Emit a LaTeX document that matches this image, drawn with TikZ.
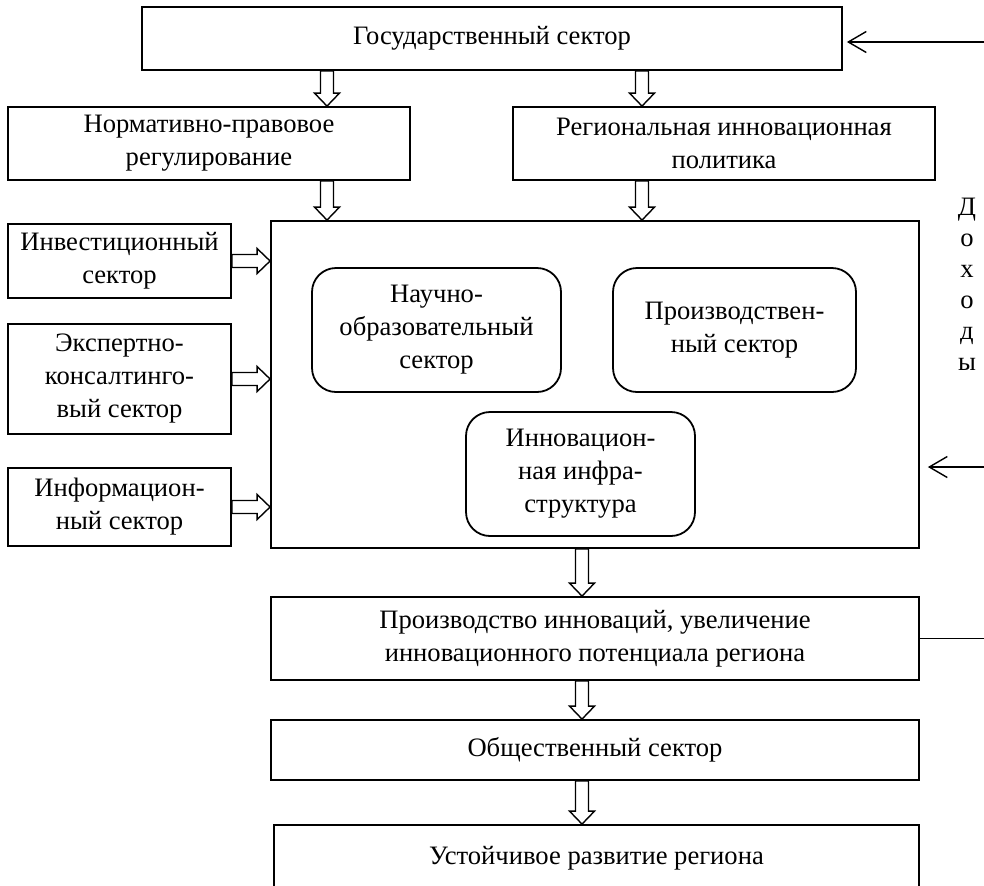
\documentclass[tikz,border=0pt]{standalone}
\usepackage{fontspec}
\setmainfont{Liberation Serif}
\usetikzlibrary{arrows.meta,calc}

\tikzset{
  box/.style={draw, line width=0.9pt, align=center, inner sep=2pt},
  inbox/.style={box, rounded corners=12pt},
  fatdown/.style={draw, line width=0.7pt, to path={
    let \p1=(\tikztostart), \p2=(\tikztotarget) in
    (\x1-3.25pt,\y1) -- (\x1-3.25pt,\y2+6.5pt) -- (\x1-6.25pt,\y2+6.5pt) -- (\x1,\y2)
    -- (\x1+6.25pt,\y2+6.5pt) -- (\x1+3.25pt,\y2+6.5pt) -- (\x1+3.25pt,\y1) -- cycle}},
  fatright/.style={draw, line width=0.7pt, to path={
    let \p1=(\tikztostart), \p2=(\tikztotarget) in
    (\x1,\y1-3.25pt) -- (\x2-6.5pt,\y1-3.25pt) -- (\x2-6.5pt,\y1-6.25pt) -- (\x2,\y1)
    -- (\x2-6.5pt,\y1+6.25pt) -- (\x2-6.5pt,\y1+3.25pt) -- (\x1,\y1+3.25pt) -- cycle}},
  back/.style={draw, line width=0.7pt, -{Straight Barb[length=9pt,width=10.5pt]}}
}

\begin{document}
\begin{tikzpicture}[x=0.5pt, y=-0.5pt, font=\fontsize{13.3pt}{16.5pt}\selectfont]
\useasboundingbox (0,0) rectangle (984,885);
\clip (0,0) rectangle (984,885);

% upper level
\node[box, minimum width=350pt, minimum height=31.5pt] (gos) at (492,38.5) {Государственный сектор};
\node[box, minimum width=201pt, minimum height=36.5pt] (norm) at (209,143.5) {Нормативно-правовое\\регулирование};
\node[box, minimum width=211pt, minimum height=36.5pt] (reg) at (724,143.5) {Региональная инновационная\\политика};

% the regional system
\node[box, minimum width=324pt, minimum height=163.5pt] (main) at (595,384.5) {};
\node[inbox, minimum width=124.5pt, minimum height=62pt] (sci) at (436.5,330) {Научно-\\образовательный\\сектор};
\node[inbox, minimum width=121.5pt, minimum height=62pt] (ind) at (734.5,330) {Производствен-\\ный сектор};
\node[inbox, minimum width=114.5pt, minimum height=62pt] (infra) at (580.5,474) {Инновацион-\\ная инфра-\\структура};

% sectors on the left
\node[box, minimum width=111.5pt, minimum height=37pt] (inv) at (119.5,261) {Инвестиционный\\сектор};
\node[box, minimum width=111.5pt, minimum height=55pt] (exp) at (119.5,379) {Экспертно-\\консалтинго-\\вый сектор};
\node[box, minimum width=111.5pt, minimum height=39pt] (inf) at (119.5,507) {Информацион-\\ный сектор};

% results
\node[box, minimum width=324pt, minimum height=41.5pt] (prod) at (595,638.5) {Производство инноваций, увеличение\\инновационного потенциала региона};
\node[box, minimum width=324pt, minimum height=30pt] (soc) at (595,750) {Общественный сектор};
\node[box, minimum width=322.5pt, minimum height=33pt] (sust) at (596.5,858) {Устойчивое развитие региона};

\node[align=center, anchor=north, inner sep=0pt, font=\fontsize{13.3pt}{15.5pt}\selectfont] (inc) at (967,198) {Д\\о\\х\\о\\д\\ы};
\coordinate (rt) at (1000,0);

% hollow arrows
\draw[fatdown] (gos.south -| 327,0) to (norm.north -| 327,0);
\draw[fatdown] (gos.south -| 642,0) to (reg.north -| 642,0);
\draw[fatdown] (norm.south -| 327,0) to (main.north -| 327,0);
\draw[fatdown] (reg.south -| 642,0) to (main.north -| 642,0);
\draw[fatright] (inv.east) to (inv.east -| main.west);
\draw[fatright] (exp.east) to (exp.east -| main.west);
\draw[fatright] (inf.east) to (inf.east -| main.west);
\draw[fatdown] (main.south -| 582,0) to (prod.north -| 582,0);
\draw[fatdown] (prod.south -| 582,0) to (soc.north -| 582,0);
\draw[fatdown] (soc.south -| 582,0) to (sust.north -| 582,0);

% incomes back to the state and the system
\draw[back, shorten >=2pt] (prod.east) -- (prod.east -| rt) |- (gos.east |- 0,42);
\draw[back, shorten >=4pt] (rt |- 0,467) -- (main.east |- 0,467);
\end{tikzpicture}
\end{document}
